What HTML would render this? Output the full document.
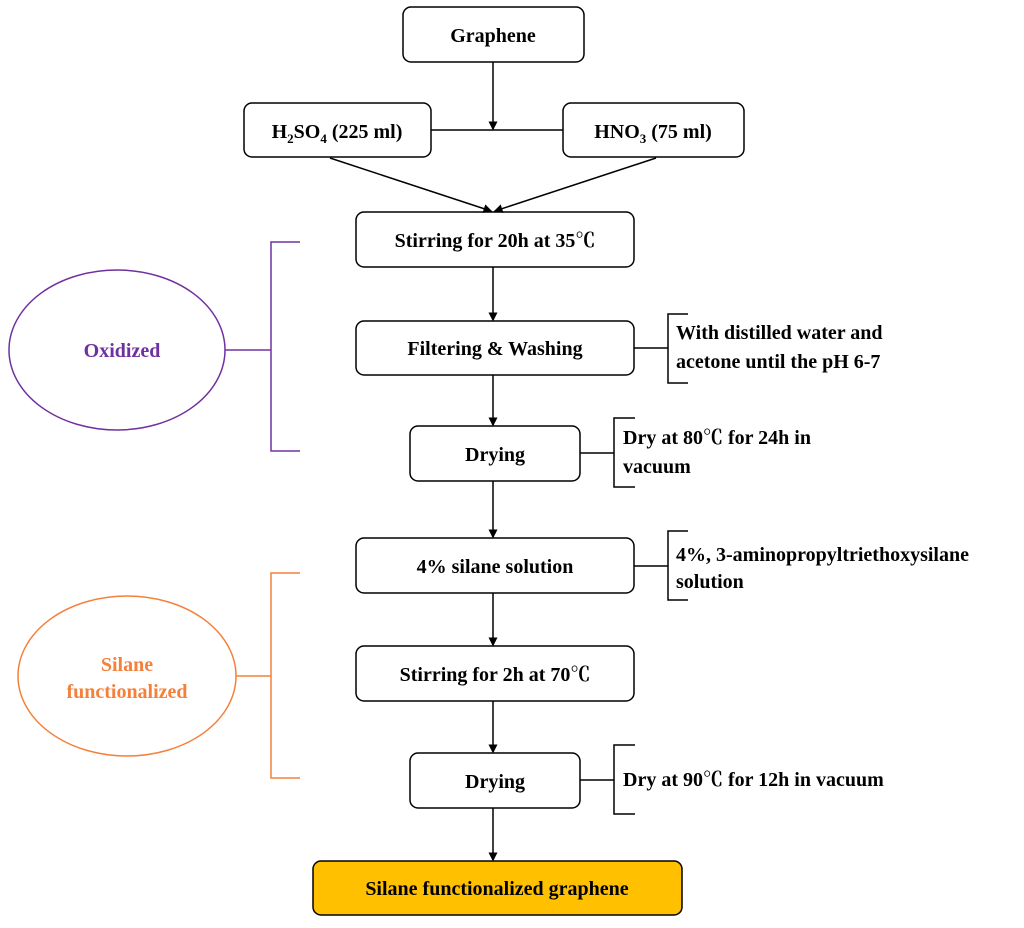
<!DOCTYPE html>
<html><head><meta charset="utf-8"><style>
html,body{margin:0;padding:0;background:#fff;}
svg{display:block;}
text{font-family:"Liberation Serif","Noto Serif CJK SC",serif;font-weight:bold;font-size:20px;fill:#000;}
</style></head><body>
<svg width="1024" height="928" viewBox="0 0 1024 928" xmlns="http://www.w3.org/2000/svg">
<defs><marker id="a" markerWidth="6" markerHeight="6" refX="5" refY="3" orient="auto"><path d="M0,0 L6,3 L0,6 z" fill="#000"/></marker></defs>
<g fill="#fff" stroke="#000" stroke-width="1.5">
<rect x="403" y="7" width="181" height="55" rx="8"/>
<rect x="244" y="103" width="187" height="54" rx="8"/>
<rect x="563" y="103" width="181" height="54" rx="8"/>
<rect x="356" y="212" width="278" height="55" rx="8"/>
<rect x="356" y="321" width="278" height="54" rx="8"/>
<rect x="410" y="426" width="170" height="55" rx="8"/>
<rect x="356" y="538" width="278" height="55" rx="8"/>
<rect x="356" y="646" width="278" height="55" rx="8"/>
<rect x="410" y="753" width="170" height="55" rx="8"/>
<rect x="313" y="861" width="369" height="54" rx="8" fill="#FFC000"/>
</g>
<g stroke="#000" stroke-width="1.5" fill="none">
<line x1="493" y1="62" x2="493" y2="129" marker-end="url(#a)"/>
<line x1="431" y1="130" x2="563" y2="130"/>
<line x1="330" y1="158" x2="491" y2="211" marker-end="url(#a)"/>
<line x1="656" y1="158" x2="495" y2="211" marker-end="url(#a)"/>
<line x1="493" y1="267" x2="493" y2="320" marker-end="url(#a)"/>
<line x1="493" y1="375" x2="493" y2="425" marker-end="url(#a)"/>
<line x1="493" y1="481" x2="493" y2="537" marker-end="url(#a)"/>
<line x1="493" y1="593" x2="493" y2="645" marker-end="url(#a)"/>
<line x1="493" y1="701" x2="493" y2="752" marker-end="url(#a)"/>
<line x1="493" y1="808" x2="493" y2="860" marker-end="url(#a)"/>
<path d="M634,348 H668 M688,314 H668 V383 H688"/>
<path d="M580,453 H614 M635,418 H614 V487 H635"/>
<path d="M634,566 H668 M688,531 H668 V600 H688"/>
<path d="M580,780 H614 M635,745 H614 V814 H635"/>
</g>
<g fill="none" stroke="#7030A0" stroke-width="1.5">
<path d="M300,242 H271 V451 H300 M271,350 H225"/>
<ellipse cx="117" cy="350" rx="108" ry="80"/>
</g>
<g fill="none" stroke="#F4803A" stroke-width="1.5">
<path d="M300,573 H271 V778 H300 M271,676 H236"/>
<ellipse cx="127" cy="676" rx="109" ry="80"/>
</g>
<g text-anchor="middle">
<text x="493" y="42">Graphene</text>
<text x="337" y="138">H<tspan font-size="13" dy="5">2</tspan><tspan dy="-5">SO</tspan><tspan font-size="13" dy="5">4</tspan><tspan dy="-5"> (225 ml)</tspan></text>
<text x="653" y="138">HNO<tspan font-size="13" dy="5">3</tspan><tspan dy="-5"> (75 ml)</tspan></text>
<text x="495" y="247">Stirring for 20h at 35℃</text>
<text x="495" y="355">Filtering &amp; Washing</text>
<text x="495" y="461">Drying</text>
<text x="495" y="573">4% silane solution</text>
<text x="495" y="681">Stirring for 2h at 70℃</text>
<text x="495" y="788">Drying</text>
<text x="497" y="895">Silane functionalized graphene</text>
<text x="122" y="357" fill="#7030A0" style="fill:#7030A0">Oxidized</text>
<text x="127" y="671" style="fill:#F4803A">Silane</text>
<text x="127" y="698" style="fill:#F4803A">functionalized</text>
</g>
<g>
<text x="676" y="339">With distilled water and</text>
<text x="676" y="368">acetone until the pH 6-7</text>
<text x="623" y="444">Dry at 80℃ for 24h in</text>
<text x="623" y="473">vacuum</text>
<text x="676" y="561">4%, 3-aminopropyltriethoxysilane</text>
<text x="676" y="588">solution</text>
<text x="623" y="786">Dry at 90℃ for 12h in vacuum</text>
</g>
</svg>
</body></html>
